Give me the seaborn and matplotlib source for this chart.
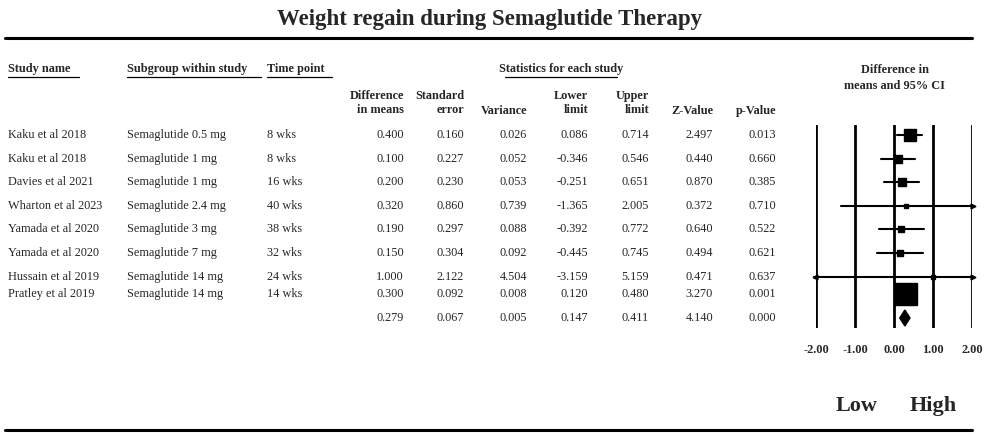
import matplotlib
matplotlib.use("Agg")
import matplotlib.pyplot as plt
import seaborn as sns
import numpy as np
import pandas as pd

studies = ["Kaku et al 2018", "Kaku et al 2018", "Davies et al 2021", "Wharton et al 2023",
           "Yamada et al 2020", "Yamada et al 2020", "Hussain et al 2019", "Pratley et al 2019"]
subgroups = ["Semaglutide 0.5 mg", "Semaglutide 1 mg", "Semaglutide 1 mg", "Semaglutide 2.4 mg",
             "Semaglutide 3 mg", "Semaglutide 7 mg", "Semaglutide 14 mg", "Semaglutide 14 mg"]
timepoints = ["8 wks", "8 wks", "16 wks", "40 wks", "38 wks", "32 wks", "24 wks", "14 wks"]
diff = [0.400, 0.100, 0.200, 0.320, 0.190, 0.150, 1.000, 0.300]
se = [0.160, 0.227, 0.230, 0.860, 0.297, 0.304, 2.122, 0.092]
var = [0.026, 0.052, 0.053, 0.739, 0.088, 0.092, 4.504, 0.008]
lower = [0.086, -0.346, -0.251, -1.365, -0.392, -0.445, -3.159, 0.120]
upper = [0.714, 0.546, 0.651, 2.005, 0.772, 0.745, 5.159, 0.480]
zval = [2.497, 0.440, 0.870, 0.372, 0.640, 0.494, 0.471, 3.270]
pval = [0.013, 0.660, 0.385, 0.710, 0.522, 0.621, 0.637, 0.001]
summary = [0.279, 0.067, 0.005, 0.147, 0.411, 4.140, 0.000]
xticks = [-2.0, -1.0, 0.0, 1.0, 2.0]

W, H = 986, 438
sns.set_theme(style="white")
plt.rcParams['font.family'] = ['Liberation Serif', 'DejaVu Serif']
fig = plt.figure(figsize=(W/100, H/100), dpi=100)
bg = fig.add_axes([0, 0, 1, 1])
bg.set_xlim(0, W); bg.set_ylim(H, 0); bg.axis('off')

fs = 8.8
bg.text(490, 19, "Weight regain during Semaglutide Therapy", ha='center', va='center',
        fontsize=16.5, fontweight='bold')
bg.plot([5, 972], [38, 38], color='black', lw=2.2)
bg.plot([5, 972], [430, 430], color='black', lw=2.2)

for x, t in [(8, "Study name"), (127, "Subgroup within study"), (267, "Time point")]:
    bg.text(x, 69, t, ha='left', va='center', fontsize=fs, fontweight='bold')
bg.text(561, 69, "Statistics for each study", ha='center', va='center', fontsize=fs, fontweight='bold')
for x0, x1 in [(8, 79), (127, 261), (267, 332), (505, 617)]:
    bg.plot([x0, x1], [77, 77], color='black', lw=0.9)
bg.text(895, 78, "Difference in\nmeans and 95% CI", ha='center', va='center', fontsize=fs,
        fontweight='bold', linespacing=1.5)

colx = [404, 464, 527, 588, 649, 713, 776]
heads = ["Difference\nin means", "Standard\nerror", "Variance", "Lower\nlimit", "Upper\nlimit",
         "Z-Value", "p-Value"]
for x, h in zip(colx, heads):
    bg.text(x, 103 if "\n" in h else 111, h, ha='right', va='center', fontsize=fs,
            fontweight='bold', linespacing=1.2)

rows_y = [135 + i * 23.6 for i in range(7)] + [294]
sum_y = 318
for i, y in enumerate(rows_y):
    bg.text(8, y, studies[i], ha='left', va='center', fontsize=fs)
    bg.text(127, y, subgroups[i], ha='left', va='center', fontsize=fs)
    bg.text(267, y, timepoints[i], ha='left', va='center', fontsize=fs)
    vals = [diff[i], se[i], var[i], lower[i], upper[i], zval[i], pval[i]]
    for x, v in zip(colx, vals):
        bg.text(x, y, f"{v:.3f}", ha='right', va='center', fontsize=fs)
for x, v in zip(colx, summary):
    bg.text(x, sum_y, f"{v:.3f}", ha='right', va='center', fontsize=fs)

x0p, x1p, y0p, y1p = 816, 972, 125, 328
ax = fig.add_axes([x0p/W, 1 - y1p/H, (x1p - x0p)/W, (y1p - y0p)/H])
ax.set_xlim(-2, 2); ax.set_ylim(y1p, y0p)
ax.axis('off')
for t in xticks:
    ax.axvline(t, color='black', lw=2)
    bg.text(x0p + (t + 2) / 4 * (x1p - x0p), 350, f"{t:.2f}", ha='center', va='center',
            fontsize=fs, fontweight='bold')

df = pd.DataFrame({"y": rows_y, "diff": diff, "lo": lower, "hi": upper, "w": 1/np.array(var)})
for _, r in df.iterrows():
    lo, hi = max(r.lo, -2.05), min(r.hi, 2.05)
    ax.plot([lo, hi], [r.y, r.y], color='black', lw=1.5, clip_on=False)
    if r.lo < -2:
        ax.plot([-2.02], [r.y], marker='<', color='black', ms=3.5, clip_on=False)
    if r.hi > 2:
        ax.plot([2.02], [r.y], marker='>', color='black', ms=3.5, clip_on=False)
for _, r in df.iterrows():
    s = max(3.5, 1.4 * np.sqrt(r.w))
    ax.plot([r["diff"]], [r.y], marker='s', color='black', ms=s, linestyle='none')
ax.fill([summary[3], summary[0], summary[4], summary[0]], [sum_y, sum_y - 8, sum_y, sum_y + 8],
        color='black')

bg.text(857, 406, "Low", ha='center', va='center', fontsize=16, fontweight='bold')
bg.text(933, 406, "High", ha='center', va='center', fontsize=16, fontweight='bold')

fig.savefig("out.png", dpi=100)
